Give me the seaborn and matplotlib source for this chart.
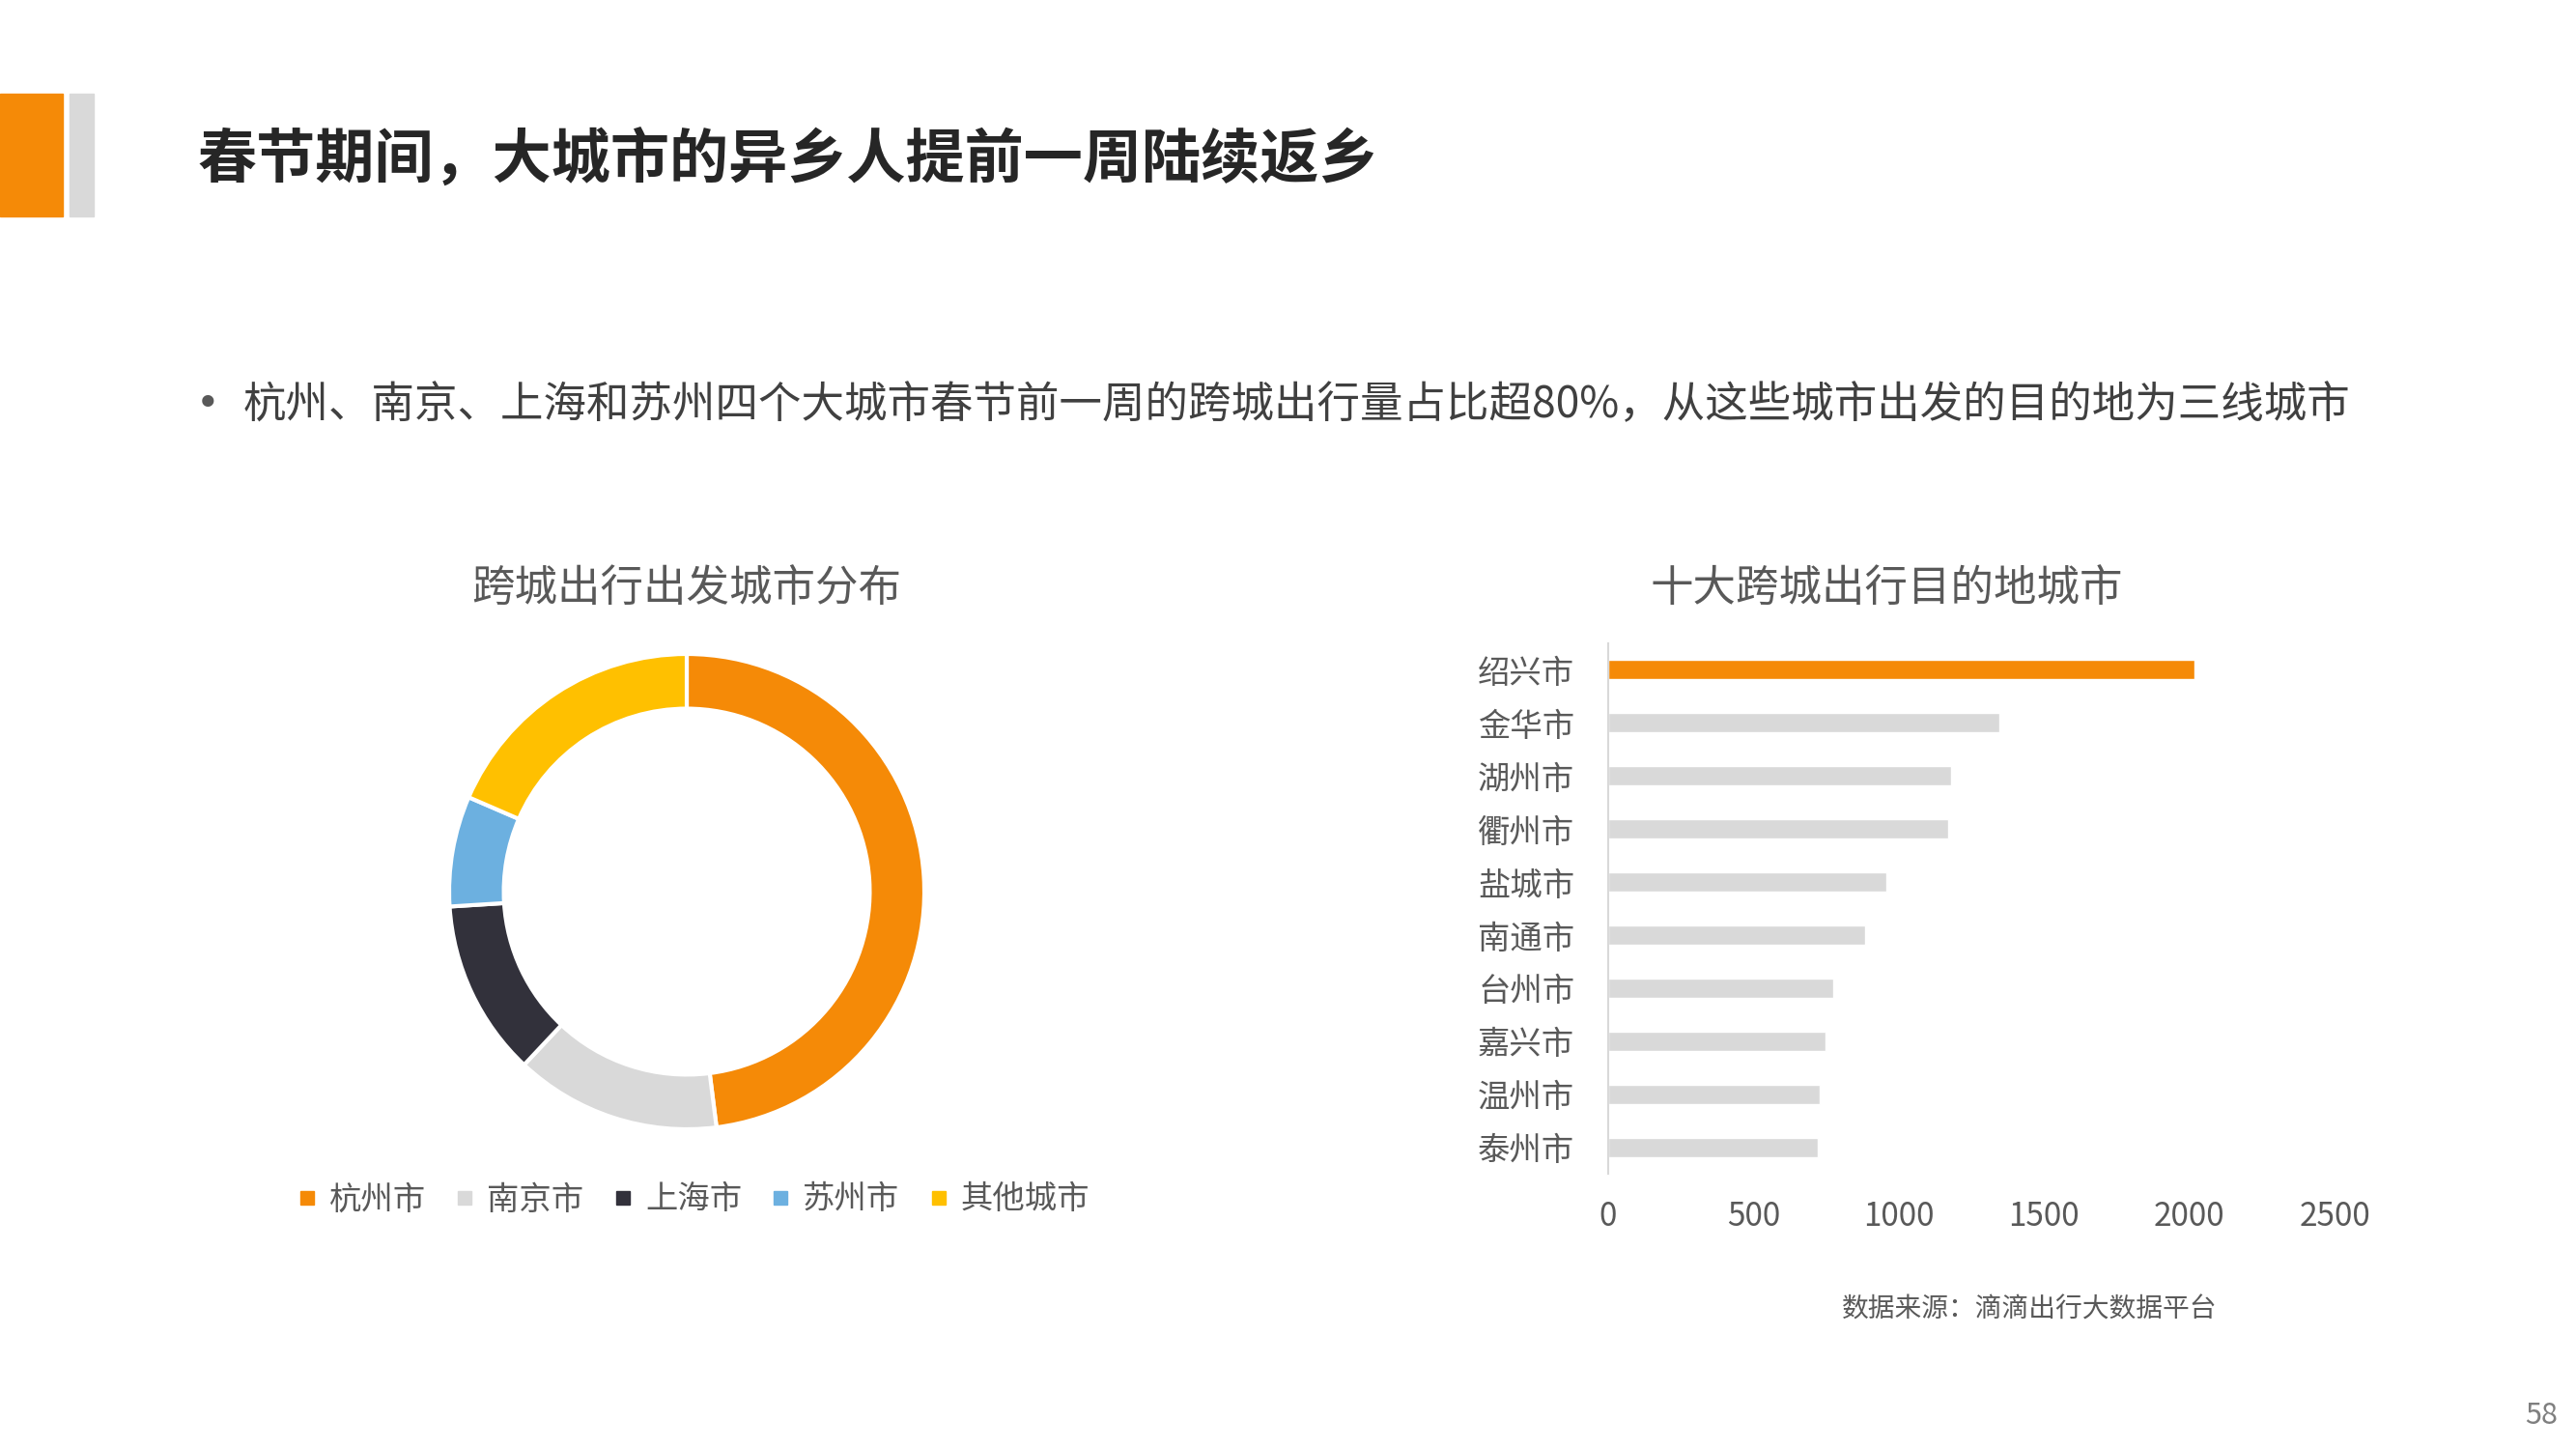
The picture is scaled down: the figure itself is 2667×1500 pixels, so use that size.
import matplotlib
matplotlib.use("Agg")
import matplotlib.pyplot as plt
from matplotlib.patches import Rectangle
from matplotlib.lines import Line2D
import seaborn as sns

sns.set_style("white")
plt.rcParams['font.family'] = ['Noto Sans CJK SC', 'DejaVu Sans']

# data
origin_cities = ["杭州市", "南京市", "上海市", "苏州市", "其他城市"]
origin_share = [48, 14, 12, 7.5, 18.5]
origin_colors = ["#F58A07", "#D9D9D9", "#32313B", "#6CB0E0", "#FFC000"]

dest_cities = ["绍兴市", "金华市", "湖州市", "衢州市", "盐城市",
               "南通市", "台州市", "嘉兴市", "温州市", "泰州市"]
dest_trips = [2018, 1346, 1179, 1171, 959, 885, 776, 748, 729, 721]
x_ticks = [0, 500, 1000, 1500, 2000, 2500]

title = "春节期间，大城市的异乡人提前一周陆续返乡"
bullet = "杭州、南京、上海和苏州四个大城市春节前一周的跨城出行量占比超80%，从这些城市出发的目的地为三线城市"
pie_title = "跨城出行出发城市分布"
bar_title = "十大跨城出行目的地城市"
source = "数据来源：滴滴出行大数据平台"

W, H = 2667, 1500
fig = plt.figure(figsize=(W / 100, H / 100), dpi=100)
fig.patch.set_facecolor("white")

# header blocks
fig.patches.append(Rectangle((0, 1 - 224 / H), 65 / W, 127 / H,
                             transform=fig.transFigure, color="#F58A07"))
fig.patches.append(Rectangle((72 / W, 1 - 224 / H), 25 / W, 127 / H,
                             transform=fig.transFigure, color="#D9D9D9"))

fig.text(205 / W, 1 - 167 / H, title, fontsize=44, fontweight="bold",
         color="#262626", va="center", ha="left")
fig.text(203 / W, 1 - 419 / H, "•", fontsize=30, color="#595959",
         va="center", ha="left", family="DejaVu Sans")
fig.text(252 / W, 1 - 419 / H, bullet, fontsize=32, color="#404040",
         va="center", ha="left")

# donut
r_px = 246
cx, cy = 711, 923
ax1 = fig.add_axes([(cx - r_px) / W, 1 - (cy + r_px) / H, 2 * r_px / W, 2 * r_px / H])
ax1.pie(origin_share, colors=origin_colors, startangle=90, counterclock=False,
        radius=1, wedgeprops=dict(width=0.23, edgecolor="white", linewidth=3))
ax1.set_xlim(-1, 1)
ax1.set_ylim(-1, 1)
ax1.set_aspect("equal")
ax1.axis("off")
fig.text(711 / W, 1 - 609 / H, pie_title, fontsize=32, color="#595959",
         ha="center", va="center")

handles = [Line2D([], [], marker="s", linestyle="none", markersize=10, color=c)
           for c in origin_colors]
fig.legend(handles, origin_cities, ncol=5, loc="center",
           bbox_to_anchor=(718 / W, 1 - 1242 / H), frameon=False, fontsize=24,
           labelcolor="#595959", handlelength=0.6, handletextpad=0.4,
           columnspacing=0.9)

# bar chart
ax2 = fig.add_axes([1665 / W, 0.1897, (2417 - 1665) / W, 0.5563 - 0.1897])
bar_colors = ["#F58A07"] + ["#D9D9D9"] * (len(dest_cities) - 1)
sns.barplot(x=dest_trips, y=dest_cities, hue=dest_cities, palette=bar_colors,
            orient="h", width=0.37, legend=False, saturation=1, ax=ax2)
ax2.set_xlim(0, 2500)
ax2.set_xticks(x_ticks)
ax2.set_xticklabels([str(t) for t in x_ticks])
for s in ["top", "right", "bottom"]:
    ax2.spines[s].set_visible(False)
ax2.spines["left"].set_color("#D9D9D9")
ax2.spines["left"].set_linewidth(1.5)
ax2.tick_params(axis="y", length=0, pad=25, labelsize=24, labelcolor="#595959")
ax2.tick_params(axis="x", length=0, pad=19, labelsize=24, labelcolor="#595959")
ax2.set_xlabel("")
ax2.set_ylabel("")
fig.text(1953 / W, 1 - 609 / H, bar_title, fontsize=32, color="#595959",
         ha="center", va="center")

fig.text(1907 / W, 1 - 1356 / H, source, fontsize=20, color="#595959",
         ha="left", va="center")
fig.text(2648 / W, 1 - 1466 / H, "58", fontsize=22, color="#7F7F7F",
         ha="right", va="center")

fig.savefig("out.png", dpi=100, facecolor="white")
